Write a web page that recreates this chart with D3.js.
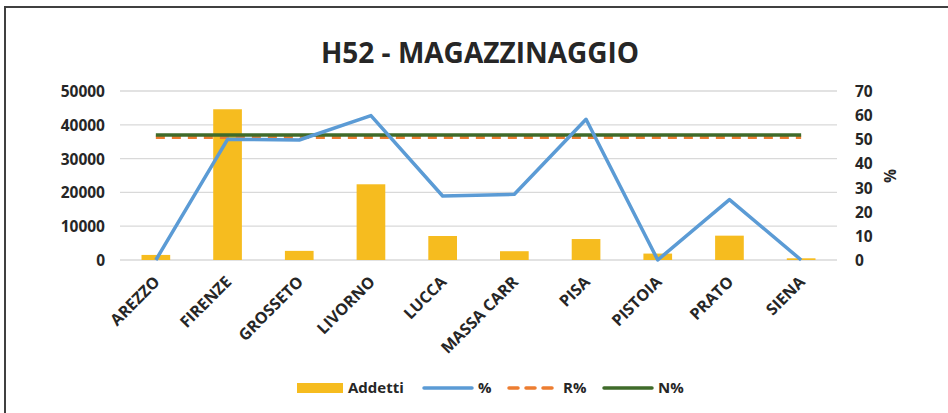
<!DOCTYPE html>
<html>
<head>
<meta charset="utf-8">
<script src="https://cdn.jsdelivr.net/npm/d3@7"></script>
<style>
  html, body { margin: 0; padding: 0; background: #fff; }
  svg { display: block; }
  text { font-family: "Open Sans", "DejaVu Sans", sans-serif; font-weight: 700; fill: #262626; }
</style>
</head>
<body>
<svg id="chart" width="948" height="413"></svg>
<script>
// Provinces and series
const categories = ["AREZZO", "FIRENZE", "GROSSETO", "LIVORNO", "LUCCA", "MASSA CARR", "PISA", "PISTOIA", "PRATO", "SIENA"];
const addetti = [1500, 44600, 2700, 22400, 7100, 2600, 6200, 1900, 7200, 500];
const pct = [0, 50, 49.7, 59.8, 26.5, 27.2, 58.3, 0, 25, 0];
const rPct = [50.8, 50.8, 50.8, 50.8, 50.8, 50.8, 50.8, 50.8, 50.8, 50.8];
const nPct = [51.8, 51.8, 51.8, 51.8, 51.8, 51.8, 51.8, 51.8, 51.8, 51.8];
const leftTicks = [0, 10000, 20000, 30000, 40000, 50000];
const rightTicks = [0, 10, 20, 30, 40, 50, 60, 70];
const title = "H52 - MAGAZZINAGGIO";

const colors = { bar: "#F6BC1F", pct: "#5B9BD5", r: "#ED7D31", n: "#3F6B2A", grid: "#D9D9D9" };

const svg = d3.select("#chart");
const plot = { left: 120, right: 837, top: 91, bottom: 260 };

// Outer frame
svg.append("rect")
  .attr("x", 5).attr("y", 7).attr("width", 960).attr("height", 420)
  .attr("fill", "none").attr("stroke", "#404040").attr("stroke-width", 2);

// Title
svg.append("text")
  .attr("x", 480).attr("y", 63)
  .attr("text-anchor", "middle")
  .style("font-size", "28px")
  .text(title);

const x = d3.scaleBand().domain(categories).range([plot.left, plot.right]).paddingInner(0.6).paddingOuter(0.3);
const xc = d => x(d) + x.bandwidth() / 2;
const yL = d3.scaleLinear().domain([0, 50000]).range([plot.bottom, plot.top]);
const yR = d3.scaleLinear().domain([0, 70]).range([plot.bottom, plot.top]);

// Gridlines
svg.append("g")
  .selectAll("line").data(leftTicks).join("line")
  .attr("x1", plot.left).attr("x2", plot.right)
  .attr("y1", d => yL(d)).attr("y2", d => yL(d))
  .attr("stroke", colors.grid).attr("stroke-width", 1.3);

// Left axis
const axL = svg.append("g").attr("transform", `translate(${plot.left},0)`)
  .call(d3.axisLeft(yL).tickValues(leftTicks).tickSize(0).tickPadding(15).tickFormat(d3.format("d")));
axL.select(".domain").remove();
axL.selectAll("text").style("font-size", "15.5px").style("font-family", null).attr("dy", "0.35em");

// Right axis
const axR = svg.append("g").attr("transform", `translate(${plot.right},0)`)
  .call(d3.axisRight(yR).tickValues(rightTicks).tickSize(0).tickPadding(18));
axR.select(".domain").remove();
axR.selectAll("text").style("font-size", "15.5px").style("font-family", null).attr("dy", "0.35em");

svg.append("text")
  .attr("transform", "translate(884,176) rotate(90)")
  .attr("text-anchor", "middle")
  .style("font-size", "15.5px")
  .text("%");

// Bars
svg.append("g").selectAll("rect").data(categories).join("rect")
  .attr("x", d => x(d))
  .attr("width", x.bandwidth())
  .attr("y", (d, i) => yL(addetti[i]))
  .attr("height", (d, i) => yL(0) - yL(addetti[i]))
  .attr("fill", colors.bar);

// Lines
const lineFor = vals => d3.line().x((d, i) => xc(categories[i])).y(d => yR(d))(vals);

svg.append("path").attr("d", lineFor(rPct))
  .attr("fill", "none").attr("stroke", colors.r).attr("stroke-width", 3.5)
  .attr("stroke-dasharray", "9,7");
svg.append("path").attr("d", lineFor(nPct))
  .attr("fill", "none").attr("stroke", colors.n).attr("stroke-width", 3.5);
svg.append("path").attr("d", lineFor(pct))
  .attr("fill", "none").attr("stroke", colors.pct).attr("stroke-width", 3.5)
  .attr("stroke-linejoin", "round");

// Category labels
svg.append("g").selectAll("text").data(categories).join("text")
  .attr("transform", d => `translate(${xc(d) + 1},${plot.bottom + 19}) rotate(-45)`)
  .attr("text-anchor", "end")
  .attr("dy", "0.35em")
  .style("font-size", "16px")
  .text(d => d);

// Legend
const legend = svg.append("g");
const ly = 388;
legend.append("rect").attr("x", 297).attr("y", ly - 5).attr("width", 46).attr("height", 10).attr("fill", colors.bar);
legend.append("text").attr("x", 348).attr("y", ly).attr("dy", "0.35em").style("font-size", "15px").text("Addetti");

const legendLine = (x0, color, dash, label) => {
  legend.append("line").attr("x1", x0).attr("x2", x0 + 48).attr("y1", ly).attr("y2", ly)
    .attr("stroke", color).attr("stroke-width", 3.5).attr("stroke-linecap", "round")
    .attr("stroke-dasharray", dash);
  legend.append("text").attr("x", x0 + 54).attr("y", ly).attr("dy", "0.35em").style("font-size", "15px").text(label);
};
legendLine(424, colors.pct, null, "%");
legendLine(509, colors.r, "9,8", "R%");
legendLine(604, colors.n, null, "N%");
</script>
</body>
</html>
